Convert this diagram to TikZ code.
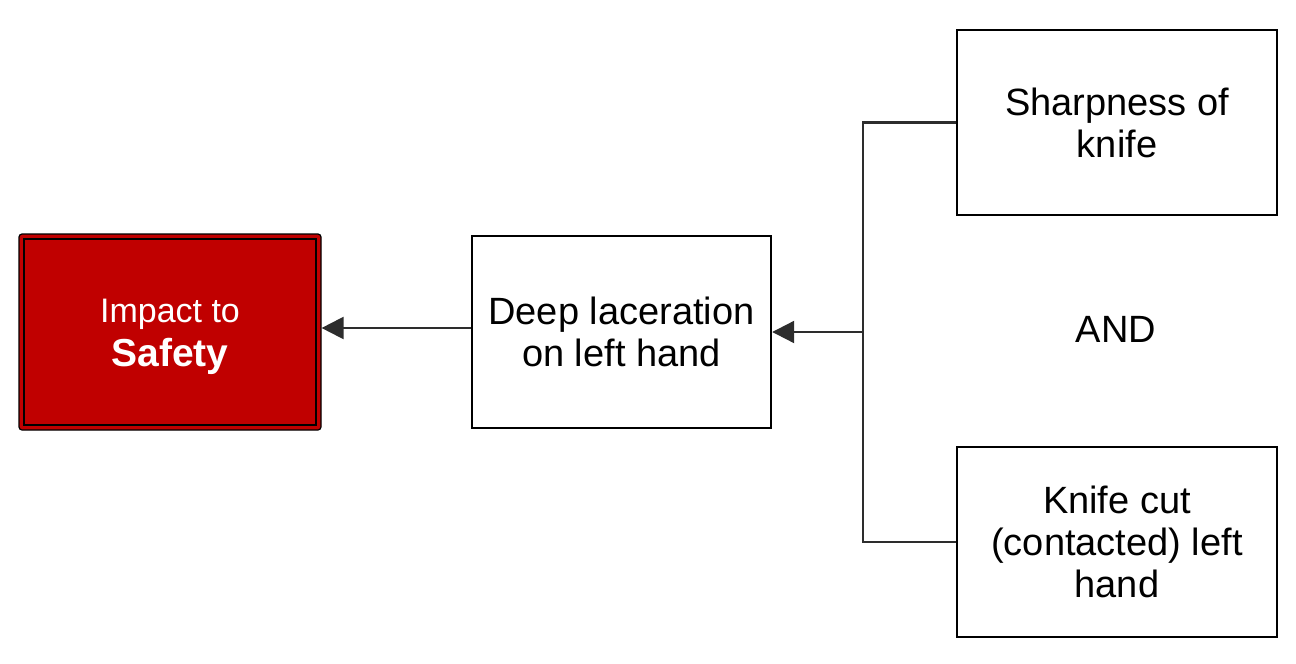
\documentclass[tikz,border=0pt]{standalone}
\usepackage{fontspec}
\setmainfont{Liberation Sans}
\usetikzlibrary{arrows.meta}
\definecolor{impred}{RGB}{192,0,0}
\definecolor{conn}{RGB}{45,45,45}
\tikzset{
  box/.style={draw=black, line width=1.2pt, fill=white, align=center, inner sep=0pt,
    font=\fontsize{19}{21}\selectfont},
  conline/.style={draw=conn, line width=1.1pt},
  arr/.style={conline, -{Triangle[length=11pt,width=11pt]}},
}
\begin{document}
\begin{tikzpicture}[x=0.5pt,y=-0.5pt]
\useasboundingbox (0,0) rectangle (1296,664);
% red impact box
\node[draw=black, line width=0.6pt, fill=impred, rounded corners=1.5pt,
      minimum width=151pt, minimum height=98pt, inner sep=0pt] (r) at (170,332) {};
\node[draw=black, line width=1.2pt, minimum width=146pt, minimum height=93pt,
      inner sep=0pt] (ri) at (170,332) {};
\node[inner sep=0pt, align=center, text=white] (rt) at (170,337)
  {{\fontsize{17}{21}\selectfont Impact to}\\[3pt]{\fontsize{19.5}{21}\selectfont\bfseries Safety}};
% other boxes
\node[box, minimum width=149.5pt, minimum height=96pt] (d) at (621.5,332) {Deep laceration\\on left hand};
\node[box, minimum width=160pt, minimum height=92.5pt] (s) at (1117,122.5) {Sharpness of\\knife};
\node[box, minimum width=160pt, minimum height=95pt] (k) at (1117,542) {Knife cut\\(contacted) left\\hand};
\node[font=\fontsize{19}{21}\selectfont, inner sep=0pt] (and) at (1116,329) {AND};
% connectors
\coordinate (j) at (863,332);
\draw[conline] (s.west) -| (j) |- (k.west);
\draw[arr] (j) -- (d.east);
\draw[arr] ([yshift=2pt]d.west) -- ([yshift=2pt]r.east);
\end{tikzpicture}
\end{document}
